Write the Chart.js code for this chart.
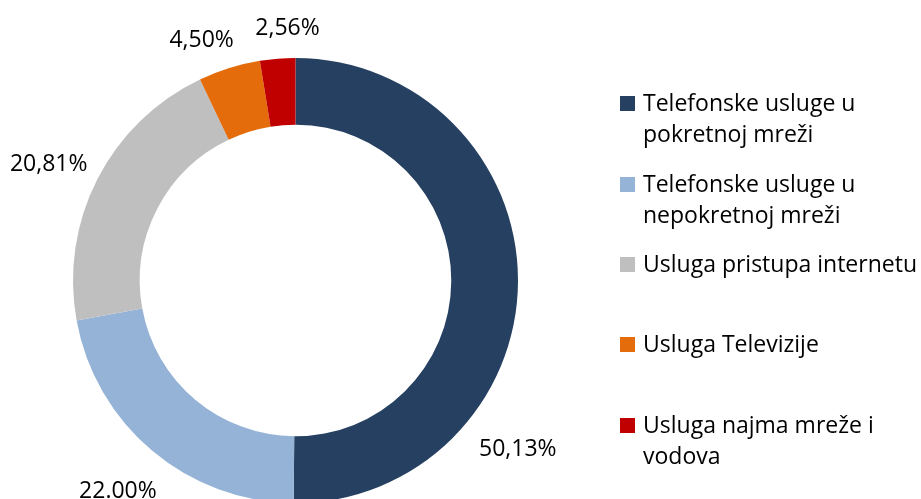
<!DOCTYPE html>
<html>
<head>
<meta charset="utf-8">
<script src="https://cdn.jsdelivr.net/npm/chart.js@4"></script>
<style>
  html, body { margin: 0; padding: 0; background: #fff; overflow: hidden; }
  #wrap { width: 921px; height: 499px; }
</style>
</head>
<body>
<div id="wrap"><canvas id="pieCanvas" width="921" height="499"></canvas></div>
<script>
// values
let categories = [
    ['Telefonske usluge u', 'pokretnoj mreži'],
    ['Telefonske usluge u', 'nepokretnoj mreži'],
    ['Usluga pristupa internetu'],
    ['Usluga Televizije'],
    ['Usluga najma mreže i', 'vodova']
];
let shares = [50.13, 22.00, 20.81, 4.50, 2.56];
let shareLabels = ['50,13%', '22.00%', '20,81%', '4,50%', '2,56%'];
let sliceColors = ['#264061', '#95B3D7', '#BFBFBF', '#E46C0A', '#C00000'];

const FONT = '"Open Sans", "Noto Sans", sans-serif';

// labels sit just outside the ring, at the middle of each slice
// (the big one is pushed down like the spreadsheet does)
let labelAngleShift = [37, 0, -2, -4, 2.8];
let labelDist = [1.255, 1.24, 1.225, 1.16, 1.135];

let sliceLabels = {
    id: 'sliceLabels',
    afterDatasetsDraw(chart) {
        let ctx = chart.ctx;
        let arcs = chart.getDatasetMeta(0).data;
        ctx.save();
        ctx.font = '23px ' + FONT;
        ctx.fillStyle = '#000';
        ctx.textAlign = 'center';
        ctx.textBaseline = 'middle';
        arcs.forEach(function (arc, i) {
            let mid = (arc.startAngle + arc.endAngle) / 2 + labelAngleShift[i] * Math.PI / 180;
            let r = arc.outerRadius * labelDist[i];
            ctx.fillText(shareLabels[i], arc.x + Math.cos(mid) * r, arc.y + Math.sin(mid) * r);
        });
        ctx.restore();
    }
};

// legend on the right, drawn by hand because of the two-line entries
let legendTop = [104, 185, 265, 345, 426];
let sideLegend = {
    id: 'sideLegend',
    afterDraw(chart) {
        let ctx = chart.ctx;
        ctx.save();
        ctx.font = '23px ' + FONT;
        ctx.textBaseline = 'middle';
        ctx.textAlign = 'left';
        categories.forEach(function (lines, i) {
            let y = legendTop[i];
            ctx.fillStyle = sliceColors[i];
            ctx.fillRect(620, y - 8, 15, 15);
            ctx.fillStyle = '#000';
            lines.forEach(function (txt, j) {
                ctx.fillText(txt, 643, y + j * 31);
            });
        });
        ctx.restore();
    }
};

let pieChart = new Chart(document.getElementById('pieCanvas').getContext('2d'), {
    type: 'doughnut',
    data: {
        labels: categories.map(function (l) { return l.join(' '); }),
        datasets: [{
            data: shares,
            backgroundColor: sliceColors,
            borderWidth: 0,
            radius: 222.5,
            cutout: '70%'
        }]
    },
    options: {
        responsive: false,
        animation: false,
        layout: { padding: { left: 73, right: 403, top: 62, bottom: 0 } },
        plugins: {
            legend: { display: false },
            tooltip: { enabled: false }
        }
    },
    plugins: [sliceLabels, sideLegend]
});
</script>
</body>
</html>
